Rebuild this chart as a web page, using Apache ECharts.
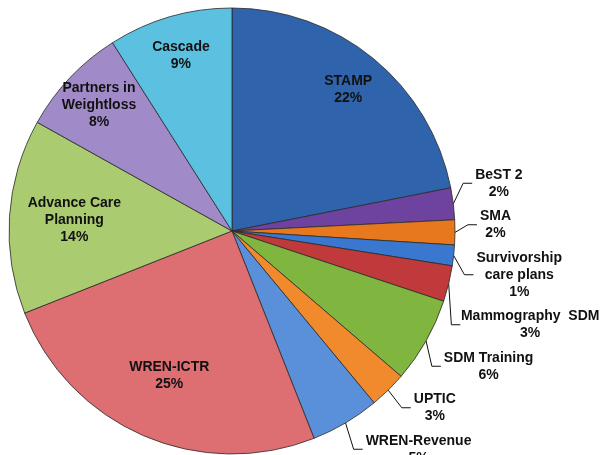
<!DOCTYPE html>
<html>
<head>
<meta charset="utf-8">
<script src="https://cdn.jsdelivr.net/npm/echarts@6/dist/echarts.min.js"></script>
<style>html,body{margin:0;padding:0;background:#fff}#c{width:607px;height:455px}</style>
</head>
<body>
<div id="c"></div>
<script>
const names = ['STAMP','BeST 2','SMA','Survivorship\ncare plans','Mammography  SDM','SDM Training','UPTIC','WREN-Revenue','WREN-ICTR','Advance Care\nPlanning','Partners in\nWeightloss','Cascade'];
const values = [21.9, 2.3, 1.8, 1.5, 2.6, 6.2, 2.7, 5.0, 25.0, 14.1, 7.9, 9.0];
const pctLabels = ['22%','2%','2%','1%','3%','6%','3%','5%','25%','14%','8%','9%'];
const colors = ['#2F64AC','#6E439F','#E8781E','#3A78D0','#C0393B','#80B63F','#F18A2C','#5A8FD9','#DD6F72','#AACB70','#A08AC8','#5CC0E0'];
const outsideSet = ['BeST 2','SMA','Survivorship\ncare plans','Mammography  SDM','SDM Training','UPTIC','WREN-Revenue'];
const farInside = ['STAMP','Partners in\nWeightloss','Cascade'];
const nearInside = ['WREN-ICTR','Advance Care\nPlanning'];

function fmt(p){
  const lines = p.name.split('\n').concat([pctLabels[p.dataIndex]]);
  return lines.map(l => '{c|' + l + '}').join('\n');
}
function fmtOut(p){
  return '{s| }\n' + fmt(p) + '\n{s| }';
}
const rich = {c:{align:'center',fontFamily:'Liberation Sans, Arial',fontWeight:'bold',fontSize:14,color:'#111',lineHeight:17},
  s:{fontSize:1,lineHeight:4.5}};

const mainData = names.map((n,i)=>({name:n,value:values[i],itemStyle:{color:colors[i]},
  label:{show: outsideSet.includes(n)}, labelLine:{show: outsideSet.includes(n)}}));
function ringData(set){
  return names.map((n,i)=>({name:n,value:values[i],label:{show:set.includes(n)}}));
}
const box = {left:0, top:0, width:607, height:470};
const chart = echarts.init(document.getElementById('c'));
chart.setOption({
  animation:false,
  series:[
    Object.assign({type:'pie',center:[232,231],radius:[0,223],startAngle:90,clockwise:true,
     avoidLabelOverlap:true,
     itemStyle:{borderColor:'#2a2a2a',borderWidth:0.8},
     label:{position:'outside',formatter:fmtOut,rich:rich,distanceToLabelLine:3,overflow:'none',edgeDistance:0},
     labelLine:{length:16,length2:9,lineStyle:{color:'#111',width:1}},
     emphasis:{disabled:true},
     data:mainData}, box),
    Object.assign({type:'pie',center:[232,231],radius:[137,223],startAngle:90,silent:true,
     itemStyle:{color:'rgba(0,0,0,0)'},
     label:{position:'inside',formatter:fmt,rich:rich},
     labelLine:{show:false},
     data:ringData(farInside)}, box),
    Object.assign({type:'pie',center:[232,231],radius:[87,223],startAngle:90,silent:true,
     itemStyle:{color:'rgba(0,0,0,0)'},
     label:{position:'inside',formatter:fmt,rich:rich},
     labelLine:{show:false},
     data:ringData(nearInside)}, box)
  ]
});
</script>
</body>
</html>
